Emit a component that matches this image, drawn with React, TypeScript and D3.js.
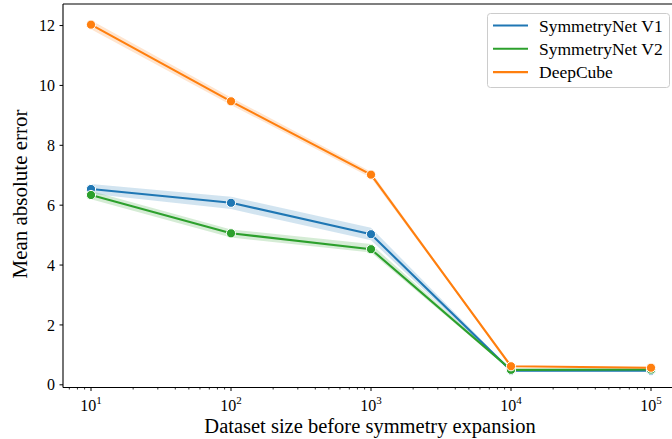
import React from "react";
import * as d3 from "d3";

const sizes = [10, 100, 1000, 10000, 100000];
const seriesNames = ["SymmetryNet V1", "SymmetryNet V2", "DeepCube"];
const seriesColors = ["#1f77b4", "#2ca02c", "#ff7f0e"];

const v1Mean = [6.54, 6.08, 5.03, 0.47, 0.47];
const v1Low = [6.38, 5.87, 4.83, 0.44, 0.45];
const v1High = [6.71, 6.28, 5.25, 0.5, 0.49];

const v2Mean = [6.34, 5.06, 4.53, 0.5, 0.51];
const v2Low = [6.2, 4.92, 4.42, 0.47, 0.49];
const v2High = [6.47, 5.19, 4.7, 0.53, 0.53];

const dcMean = [12.03, 9.47, 7.02, 0.62, 0.57];
const dcLow = [11.88, 9.35, 6.92, 0.6, 0.55];
const dcHigh = [12.18, 9.6, 7.12, 0.64, 0.59];

const yTicks = [0, 2, 4, 6, 8, 10, 12];
const xTickExponents = [1, 2, 3, 4, 5];

const W = 672;
const H = 439;
const FONT = "'Liberation Serif', 'DejaVu Serif', serif";

export default function App() {
  const left = 63;
  const top = 4;
  const bottom = 387.5;
  const right = 679;
  const x = d3.scaleLog().domain([Math.pow(10, 0.8), Math.pow(10, 5.2)]).range([left, right]);
  const y = d3.scaleLinear().domain([-0.09, 12.72]).range([bottom, top]);

  const series = [
    { mean: v1Mean, low: v1Low, high: v1High },
    { mean: v2Mean, low: v2Low, high: v2High },
    { mean: dcMean, low: dcLow, high: dcHigh },
  ];

  const line = d3
    .line<number>()
    .x((_, i) => x(sizes[i]))
    .y((d) => y(d));
  const area = (low: number[], high: number[]) =>
    d3
      .area<number>()
      .x((_, i) => x(sizes[i]))
      .y0((_, i) => y(low[i]))
      .y1((_, i) => y(high[i]))(low.map((v) => v));

  const minorTicks: number[] = [];
  for (let e = 0; e <= 5; e++) {
    for (let m = 2; m <= 9; m++) {
      const v = m * Math.pow(10, e);
      if (x(v) >= left && x(v) <= right) minorTicks.push(v);
    }
  }

  return (
    <svg
      width={W}
      height={H}
      style={{ position: "absolute", left: 0, top: 0, background: "#fff" }}
      fontFamily={FONT}
    >
      <defs>
        <clipPath id="plotClip">
          <rect x={left} y={top} width={right - left} height={bottom - top} />
        </clipPath>
      </defs>

      <g clipPath="url(#plotClip)">
        {series.map((s, k) => (
          <path key={"band" + k} d={area(s.low, s.high) || ""} fill={seriesColors[k]} opacity={0.2} />
        ))}
        {series.map((s, k) => (
          <g key={"ln" + k}>
            <path d={line(s.mean) || ""} fill="none" stroke={seriesColors[k]} strokeWidth={2.1} strokeLinejoin="round" strokeLinecap="round" />
            {s.mean.map((v, i) => (
              <circle key={i} cx={x(sizes[i])} cy={y(v)} r={4.6} fill={seriesColors[k]} stroke="#fff" strokeWidth={1} />
            ))}
          </g>
        ))}
      </g>

      {/* spines */}
      <line x1={left} x2={left} y1={top} y2={bottom} stroke="#000" strokeWidth={1.1} />
      <line x1={left} x2={right} y1={bottom} y2={bottom} stroke="#000" strokeWidth={1.1} />
      <line x1={left} x2={right} y1={top} y2={top} stroke="#000" strokeWidth={1.1} />

      {/* y axis */}
      {yTicks.map((t) => (
        <g key={"yt" + t}>
          <line x1={left - 3.5} x2={left} y1={y(t)} y2={y(t)} stroke="#000" strokeWidth={1} />
          <text x={left - 8} y={y(t)} dy="0.35em" textAnchor="end" fontSize={16}>
            {t}
          </text>
        </g>
      ))}

      {/* x axis */}
      {minorTicks.map((v, i) => (
        <line key={"mt" + i} x1={x(v)} x2={x(v)} y1={bottom} y2={bottom + 2} stroke="#000" strokeWidth={0.8} />
      ))}
      {xTickExponents.map((e) => {
        const px = x(Math.pow(10, e));
        return (
          <g key={"xt" + e}>
            <line x1={px} x2={px} y1={bottom} y2={bottom + 3.5} stroke="#000" strokeWidth={1} />
            <text x={px} y={411} textAnchor="middle" fontSize={16}>
              10
              <tspan fontSize={11} dy={-7}>
                {e}
              </tspan>
            </text>
          </g>
        );
      })}

      <text x={370} y={433} textAnchor="middle" fontSize={20.5}>
        Dataset size before symmetry expansion
      </text>
      <text transform="translate(27,194) rotate(-90)" textAnchor="middle" fontSize={21}>
        Mean absolute error
      </text>

      {/* legend */}
      <g>
        <rect x={487.5} y={13.5} width={182} height={74} rx={3} fill="#fff" fillOpacity={0.8} stroke="#ccc" strokeWidth={1} />
        {seriesNames.map((n, k) => {
          const cy = 25.5 + k * 23.3;
          return (
            <g key={"lg" + k}>
              <line x1={493} x2={528} y1={cy} y2={cy} stroke={seriesColors[k]} strokeWidth={2.1} />
              <text x={539} y={cy} dy="0.35em" fontSize={17.5}>
                {n}
              </text>
            </g>
          );
        })}
      </g>
    </svg>
  );
}
